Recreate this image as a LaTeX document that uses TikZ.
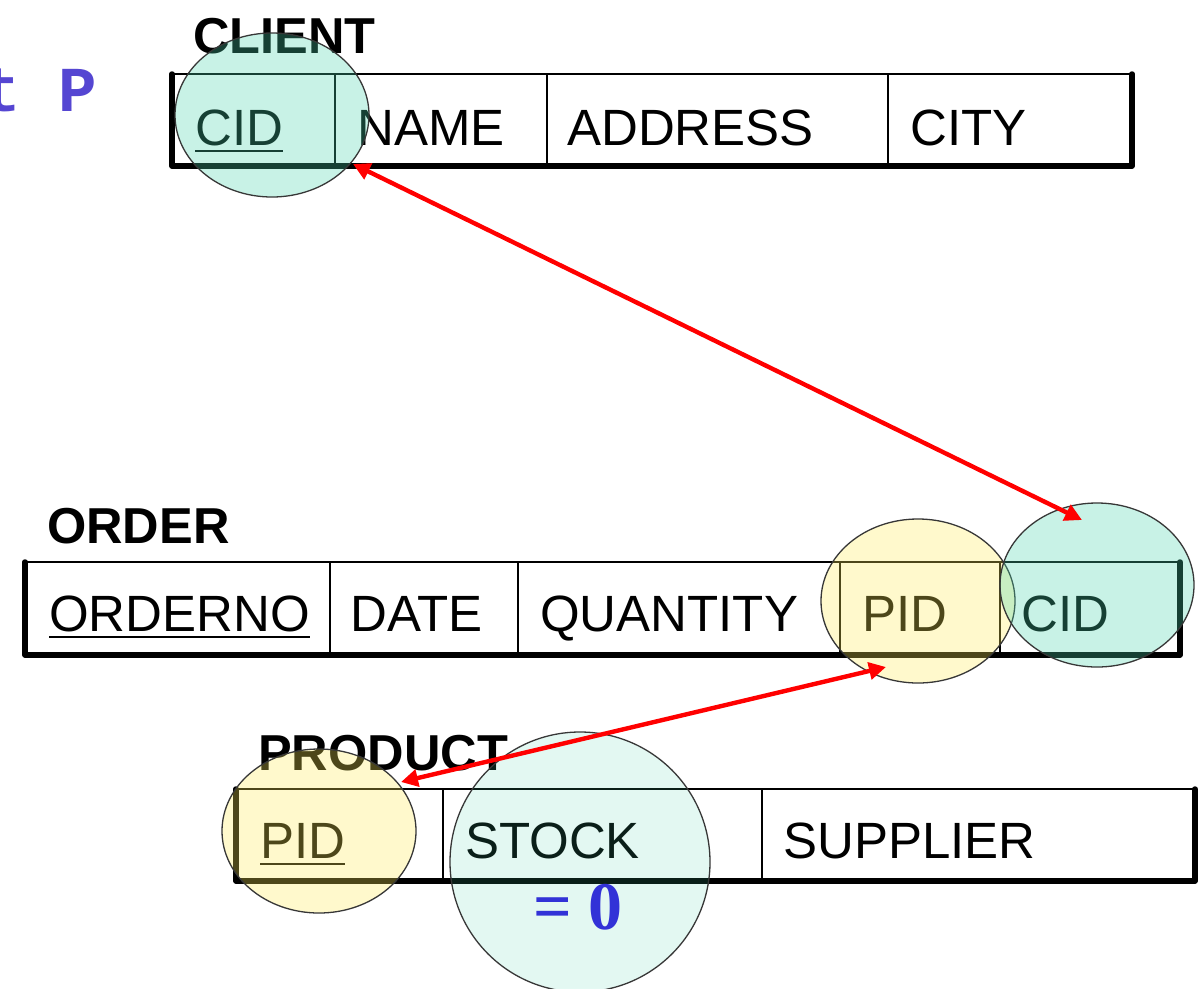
\documentclass[tikz,border=0pt]{standalone}
\usepackage{fontspec}
\setmainfont{Liberation Sans}
\newfontfamily\timesfont{Liberation Serif}
\newfontfamily\couriefont{Liberation Mono}
\usetikzlibrary{shapes.geometric,arrows.meta}
\definecolor{mint}{RGB}{73,213,173}
\definecolor{lemon}{RGB}{255,238,88}
\definecolor{ringline}{RGB}{55,55,55}
\definecolor{eqblue}{RGB}{50,50,215}
\definecolor{codeblue}{RGB}{85,70,210}
\tikzset{
  lbl/.style={anchor=base west, inner sep=0pt, font=\fontsize{51}{51}\selectfont},
  ttl/.style={anchor=base west, inner sep=0pt, font=\fontsize{50.5}{50.5}\selectfont\bfseries},
  tblthin/.style={line width=2.6pt},
  tblthick/.style={line width=5.5pt, line cap=round, line join=round},
  uline/.style={line width=2.6pt},
  ring/.style={ellipse, draw=ringline, line width=1.3pt, inner sep=0pt,
    minimum width=194pt, minimum height=164pt, fill opacity=0.3},
  link/.style={red, line width=4.4pt,
    {Triangle[length=17pt,width=17pt]}-{Triangle[length=17pt,width=17pt]}}
}
\begin{document}
\begin{tikzpicture}[x=1pt,y=-1pt]
\useasboundingbox[fill=white] (0,0) rectangle (1201,988);

% left fragment
\node[anchor=base west, inner sep=0pt, text=codeblue,
  font=\fontsize{64}{64}\selectfont\couriefont\bfseries] (frag) at (-18,111) {t P};

% ---------- CLIENT ----------
\node[ttl] (clientT) at (193,53) {CLIENT};
\draw[tblthin] (172,74) rectangle (1132,166);
\draw[tblthick] (172,74) -- (172,166) -- (1132,166) -- (1132,74);
\draw[tblthin] (335,74) -- (335,166);
\draw[tblthin] (547,74) -- (547,166);
\draw[tblthin] (888,74) -- (888,166);
\node[lbl] (ccid) at (195,145) {CID};
\draw[uline] ([yshift=-6pt]ccid.base west) -- ([yshift=-6pt]ccid.base east);
\node[lbl] (cname) at (357,145) {NAME};
\node[lbl] (caddr) at (567,145) {ADDRESS};
\node[lbl] (ccity) at (910,145) {CITY};

% ---------- ORDER ----------
\node[ttl] (orderT) at (47,543) {ORDER};
\draw[tblthin] (25,562) rectangle (1180,655);
\draw[tblthick] (25,562) -- (25,655) -- (1180,655) -- (1180,562);
\draw[tblthin] (330,562) -- (330,655);
\draw[tblthin] (518,562) -- (518,655);
\draw[tblthin] (840,562) -- (840,655);
\draw[tblthin] (1000,562) -- (1000,655);
\node[lbl] (ono) at (49,631) {ORDERNO};
\draw[uline] ([yshift=-6pt]ono.base west) -- ([yshift=-6pt]ono.base east);
\node[lbl] (odate) at (350,631) {DATE};
\node[lbl] (oqty) at (540,631) {QUANTITY};
\node[lbl] (opid) at (862,631) {PID};
\node[lbl] (ocid) at (1021,631) {CID};

% ---------- PRODUCT ----------
\node[ttl] (prodT) at (258,770) {PRODUCT};
\draw[tblthin] (236,789) rectangle (1195,881);
\draw[tblthick] (236,789) -- (236,881) -- (1195,881) -- (1195,789);
\draw[tblthin] (443,789) -- (443,881);
\draw[tblthin] (762,789) -- (762,881);
\node[lbl] (ppid) at (260,858) {PID};
\draw[uline] ([yshift=-6pt]ppid.base west) -- ([yshift=-6pt]ppid.base east);
\node[lbl] (pstock) at (465,858) {STOCK};
\node[lbl] (psupp) at (783,858) {SUPPLIER};

% ---------- highlight rings ----------
\node[ring, fill=mint] (ringC) at (272,115) {};
\node[ring, fill=lemon] (ringOP) at (918,601) {};
\node[ring, fill=mint] (ringOC) at (1097,585) {};
\node[ring, fill=lemon] (ringPP) at (319,831) {};
\node[ring, fill=mint, fill opacity=0.15, minimum width=260pt, minimum height=260pt] (ringS) at (580,862) {};

\node[anchor=base, inner sep=0pt, text=eqblue,
  font=\fontsize{68}{68}\selectfont\timesfont\bfseries] (eqz) at (578,929) {= 0};

% ---------- links ----------
\coordinate (tipC) at (353,164);
\coordinate (tipOC) at (1082,520);
\coordinate (tipOP) at (886,667);
\coordinate (tipPP) at (401,782);
\draw[link] (tipC) -- (tipOC);
\draw[link] (tipPP) -- (tipOP);
\end{tikzpicture}
\end{document}
